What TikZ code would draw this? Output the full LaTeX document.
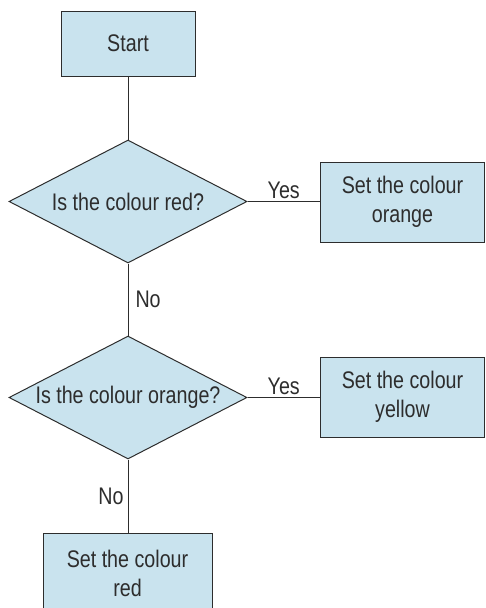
\documentclass[tikz,border=0pt]{standalone}
\usepackage{fontspec}
\setmainfont{Liberation Sans}[FakeStretch=0.82]
\usetikzlibrary{shapes.geometric}
\definecolor{boxfill}{RGB}{201,227,238}
\definecolor{edge}{RGB}{45,45,45}
\tikzset{
  every node/.style={font=\fontsize{24pt}{29pt}\selectfont, text=edge},
  procbox/.style={draw=edge, fill=boxfill, line width=1pt, rectangle, inner sep=0pt, align=center},
  decision/.style={draw=edge, fill=boxfill, line width=1pt, diamond, aspect=1.935, inner sep=0pt, minimum width=238pt, minimum height=123pt},
  conn/.style={draw=edge, line width=1pt},
  lbl/.style={inner sep=2pt}
}
\begin{document}
\begin{tikzpicture}[x=1pt,y=1pt]
\useasboundingbox (0,0) rectangle (485,-608);
\clip (0,0) rectangle (485,-608);
\node[procbox, minimum width=134pt, minimum height=65pt] (start) at (128,-43.5) {Start};
\node[decision] (d1) at (128,-201.5) {Is the colour red?};
\node[procbox, minimum width=164pt, minimum height=80pt] (orange) at (402.5,-202) {Set the colour\\orange};
\node[decision] (d2) at (128,-397.5) {Is the colour orange?};
\node[procbox, minimum width=164pt, minimum height=80pt] (yellow) at (402.5,-397) {Set the colour\\yellow};
\node[procbox, minimum width=169pt, minimum height=80pt] (red) at (127.5,-573) {Set the colour\\red};
\draw[conn] (start.south) -- (d1.north);
\draw[conn] (d1.east) -- node[lbl, above] {Yes} (d1.east -| orange.west);
\draw[conn] (d1.south) -- node[lbl, right, inner sep=7pt] {No} (d2.north);
\draw[conn] (d2.east) -- node[lbl, above] {Yes} (d2.east -| yellow.west);
\draw[conn] (d2.south) -- node[lbl, left, inner sep=4pt] {No} (d2.south |- red.north);
\end{tikzpicture}
\end{document}
